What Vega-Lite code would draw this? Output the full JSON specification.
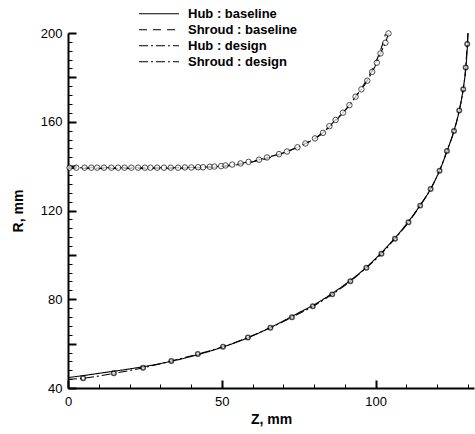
{
  "$schema": "https://vega.github.io/schema/vega-lite/v6.json",
  "width": 406,
  "height": 355,
  "autosize": {"type": "none"},
  "padding": {"left": 68, "top": 33, "right": 1, "bottom": 46},
  "background": "white",
  "config": {
    "view": {"stroke": null},
    "font": "Liberation Sans",
    "axis": {
      "domainColor": "black", "domainWidth": 2, "tickColor": "black",
      "labelColor": "black", "labelFont": "Liberation Sans", "labelFontSize": 13,
      "titleFont": "Liberation Sans", "titleFontSize": 14, "titleFontWeight": "bold",
      "titleColor": "black", "grid": false
    }
  },
  "resolve": {"axis": {"x": "independent", "y": "independent"}},
  "datasets": {
    "lines": [
      {"series": "Hub : baseline", "z": 0, "r": 44.7},
      {"series": "Hub : baseline", "z": 5, "r": 45.6},
      {"series": "Hub : baseline", "z": 10, "r": 46.6},
      {"series": "Hub : baseline", "z": 20, "r": 48.6},
      {"series": "Hub : baseline", "z": 30, "r": 51.0},
      {"series": "Hub : baseline", "z": 40, "r": 54.2},
      {"series": "Hub : baseline", "z": 50, "r": 58.3},
      {"series": "Hub : baseline", "z": 60, "r": 63.5},
      {"series": "Hub : baseline", "z": 65, "r": 66.7},
      {"series": "Hub : baseline", "z": 70, "r": 70.2},
      {"series": "Hub : baseline", "z": 75, "r": 73.9},
      {"series": "Hub : baseline", "z": 80, "r": 77.5},
      {"series": "Hub : baseline", "z": 85, "r": 81.8},
      {"series": "Hub : baseline", "z": 90, "r": 86.6},
      {"series": "Hub : baseline", "z": 95, "r": 92.0},
      {"series": "Hub : baseline", "z": 100, "r": 98.3},
      {"series": "Hub : baseline", "z": 105, "r": 105.6},
      {"series": "Hub : baseline", "z": 110, "r": 113.8},
      {"series": "Hub : baseline", "z": 114.5, "r": 122.4},
      {"series": "Hub : baseline", "z": 118, "r": 130.0},
      {"series": "Hub : baseline", "z": 121, "r": 138.6},
      {"series": "Hub : baseline", "z": 123.3, "r": 147.0},
      {"series": "Hub : baseline", "z": 125.5, "r": 156.0},
      {"series": "Hub : baseline", "z": 127.2, "r": 165.0},
      {"series": "Hub : baseline", "z": 128.5, "r": 175.0},
      {"series": "Hub : baseline", "z": 129.4, "r": 185.0},
      {"series": "Hub : baseline", "z": 129.9, "r": 195.0},
      {"series": "Hub : baseline", "z": 130.1, "r": 200.0},
      {"series": "Shroud : baseline", "z": 0, "r": 139.0},
      {"series": "Shroud : baseline", "z": 20, "r": 139.0},
      {"series": "Shroud : baseline", "z": 35, "r": 139.1},
      {"series": "Shroud : baseline", "z": 45, "r": 139.4},
      {"series": "Shroud : baseline", "z": 50, "r": 139.8},
      {"series": "Shroud : baseline", "z": 55, "r": 140.6},
      {"series": "Shroud : baseline", "z": 60, "r": 141.9},
      {"series": "Shroud : baseline", "z": 65, "r": 143.6},
      {"series": "Shroud : baseline", "z": 70, "r": 145.9},
      {"series": "Shroud : baseline", "z": 75, "r": 148.7},
      {"series": "Shroud : baseline", "z": 80, "r": 152.2},
      {"series": "Shroud : baseline", "z": 84, "r": 156.5},
      {"series": "Shroud : baseline", "z": 87, "r": 160.4},
      {"series": "Shroud : baseline", "z": 90, "r": 165.0},
      {"series": "Shroud : baseline", "z": 92.5, "r": 169.4},
      {"series": "Shroud : baseline", "z": 95, "r": 174.2},
      {"series": "Shroud : baseline", "z": 97, "r": 178.6},
      {"series": "Shroud : baseline", "z": 99, "r": 183.6},
      {"series": "Shroud : baseline", "z": 100.6, "r": 188.6},
      {"series": "Shroud : baseline", "z": 102, "r": 193.8},
      {"series": "Shroud : baseline", "z": 103.2, "r": 199.5},
      {"series": "Hub : design", "z": 0, "r": 43.9},
      {"series": "Hub : design", "z": 4.9, "r": 44.4},
      {"series": "Hub : design", "z": 14.9, "r": 46.6},
      {"series": "Hub : design", "z": 24.4, "r": 49.1},
      {"series": "Hub : design", "z": 33.6, "r": 52.2},
      {"series": "Hub : design", "z": 42.2, "r": 55.3},
      {"series": "Hub : design", "z": 50.4, "r": 58.6},
      {"series": "Hub : design", "z": 58.5, "r": 62.8},
      {"series": "Hub : design", "z": 65.8, "r": 67.2},
      {"series": "Hub : design", "z": 72.8, "r": 71.9},
      {"series": "Hub : design", "z": 79.6, "r": 76.8},
      {"series": "Hub : design", "z": 85.9, "r": 82.2},
      {"series": "Hub : design", "z": 91.8, "r": 88.1},
      {"series": "Hub : design", "z": 97.0, "r": 94.2},
      {"series": "Hub : design", "z": 101.9, "r": 100.5},
      {"series": "Hub : design", "z": 106.3, "r": 107.3},
      {"series": "Hub : design", "z": 110.7, "r": 114.7},
      {"series": "Hub : design", "z": 114.5, "r": 122.2},
      {"series": "Hub : design", "z": 117.9, "r": 129.7},
      {"series": "Hub : design", "z": 120.8, "r": 137.9},
      {"series": "Hub : design", "z": 123.2, "r": 146.8},
      {"series": "Hub : design", "z": 125.5, "r": 155.8},
      {"series": "Hub : design", "z": 127.2, "r": 165.1},
      {"series": "Hub : design", "z": 128.5, "r": 174.6},
      {"series": "Hub : design", "z": 129.3, "r": 184.5},
      {"series": "Hub : design", "z": 129.8, "r": 195.0},
      {"series": "Hub : design", "z": 130.0, "r": 200.0},
      {"series": "Shroud : design", "z": 0, "r": 139.3},
      {"series": "Shroud : design", "z": 20, "r": 139.3},
      {"series": "Shroud : design", "z": 35, "r": 139.3},
      {"series": "Shroud : design", "z": 40, "r": 139.4},
      {"series": "Shroud : design", "z": 45, "r": 139.6},
      {"series": "Shroud : design", "z": 50, "r": 140.0},
      {"series": "Shroud : design", "z": 53.4, "r": 140.7},
      {"series": "Shroud : design", "z": 56.1, "r": 141.2},
      {"series": "Shroud : design", "z": 58.7, "r": 141.9},
      {"series": "Shroud : design", "z": 62.1, "r": 142.9},
      {"series": "Shroud : design", "z": 64.7, "r": 143.9},
      {"series": "Shroud : design", "z": 68.6, "r": 145.4},
      {"series": "Shroud : design", "z": 71.2, "r": 146.6},
      {"series": "Shroud : design", "z": 74.6, "r": 148.5},
      {"series": "Shroud : design", "z": 77.2, "r": 150.2},
      {"series": "Shroud : design", "z": 80.3, "r": 152.5},
      {"series": "Shroud : design", "z": 82.9, "r": 155.0},
      {"series": "Shroud : design", "z": 85.0, "r": 158.0},
      {"series": "Shroud : design", "z": 87.0, "r": 160.8},
      {"series": "Shroud : design", "z": 89.4, "r": 164.1},
      {"series": "Shroud : design", "z": 91.5, "r": 167.5},
      {"series": "Shroud : design", "z": 93.5, "r": 171.3},
      {"series": "Shroud : design", "z": 95.4, "r": 174.6},
      {"series": "Shroud : design", "z": 97.3, "r": 178.5},
      {"series": "Shroud : design", "z": 98.9, "r": 182.5},
      {"series": "Shroud : design", "z": 100.4, "r": 186.6},
      {"series": "Shroud : design", "z": 101.6, "r": 190.8},
      {"series": "Shroud : design", "z": 103.2, "r": 195.6},
      {"series": "Shroud : design", "z": 104.2, "r": 199.8}
    ],
    "markers": [
      {"series": "Hub : design", "z": 4.9, "r": 44.4},
      {"series": "Hub : design", "z": 14.9, "r": 46.6},
      {"series": "Hub : design", "z": 24.4, "r": 49.1},
      {"series": "Hub : design", "z": 33.6, "r": 52.2},
      {"series": "Hub : design", "z": 42.2, "r": 55.3},
      {"series": "Hub : design", "z": 50.4, "r": 58.6},
      {"series": "Hub : design", "z": 58.5, "r": 62.8},
      {"series": "Hub : design", "z": 65.8, "r": 67.2},
      {"series": "Hub : design", "z": 72.8, "r": 71.9},
      {"series": "Hub : design", "z": 79.6, "r": 76.8},
      {"series": "Hub : design", "z": 85.9, "r": 82.2},
      {"series": "Hub : design", "z": 91.8, "r": 88.1},
      {"series": "Hub : design", "z": 97.0, "r": 94.2},
      {"series": "Hub : design", "z": 101.9, "r": 100.5},
      {"series": "Hub : design", "z": 106.3, "r": 107.3},
      {"series": "Hub : design", "z": 110.7, "r": 114.7},
      {"series": "Hub : design", "z": 114.5, "r": 122.2},
      {"series": "Hub : design", "z": 117.9, "r": 129.7},
      {"series": "Hub : design", "z": 120.8, "r": 137.9},
      {"series": "Hub : design", "z": 123.2, "r": 146.8},
      {"series": "Hub : design", "z": 125.5, "r": 155.8},
      {"series": "Hub : design", "z": 127.2, "r": 165.1},
      {"series": "Hub : design", "z": 128.5, "r": 174.6},
      {"series": "Hub : design", "z": 129.3, "r": 184.5},
      {"series": "Hub : design", "z": 129.8, "r": 195.0},
      {"series": "Shroud : design", "z": 0.5, "r": 139.3},
      {"series": "Shroud : design", "z": 2.7, "r": 139.3},
      {"series": "Shroud : design", "z": 5.4, "r": 139.3},
      {"series": "Shroud : design", "z": 7.6, "r": 139.3},
      {"series": "Shroud : design", "z": 9.5, "r": 139.3},
      {"series": "Shroud : design", "z": 11.7, "r": 139.3},
      {"series": "Shroud : design", "z": 14.1, "r": 139.3},
      {"series": "Shroud : design", "z": 16.3, "r": 139.3},
      {"series": "Shroud : design", "z": 18.4, "r": 139.3},
      {"series": "Shroud : design", "z": 20.6, "r": 139.3},
      {"series": "Shroud : design", "z": 22.8, "r": 139.3},
      {"series": "Shroud : design", "z": 25.0, "r": 139.3},
      {"series": "Shroud : design", "z": 26.8, "r": 139.3},
      {"series": "Shroud : design", "z": 29.0, "r": 139.3},
      {"series": "Shroud : design", "z": 31.2, "r": 139.3},
      {"series": "Shroud : design", "z": 33.4, "r": 139.3},
      {"series": "Shroud : design", "z": 35.8, "r": 139.3},
      {"series": "Shroud : design", "z": 38.0, "r": 139.4},
      {"series": "Shroud : design", "z": 40.1, "r": 139.4},
      {"series": "Shroud : design", "z": 42.3, "r": 139.5},
      {"series": "Shroud : design", "z": 43.9, "r": 139.5},
      {"series": "Shroud : design", "z": 46.1, "r": 139.7},
      {"series": "Shroud : design", "z": 47.6, "r": 139.8},
      {"series": "Shroud : design", "z": 49.8, "r": 140.0},
      {"series": "Shroud : design", "z": 51.2, "r": 140.3},
      {"series": "Shroud : design", "z": 53.4, "r": 140.7},
      {"series": "Shroud : design", "z": 56.1, "r": 141.2},
      {"series": "Shroud : design", "z": 58.7, "r": 141.9},
      {"series": "Shroud : design", "z": 62.1, "r": 142.9},
      {"series": "Shroud : design", "z": 64.7, "r": 143.9},
      {"series": "Shroud : design", "z": 68.6, "r": 145.4},
      {"series": "Shroud : design", "z": 71.2, "r": 146.6},
      {"series": "Shroud : design", "z": 74.6, "r": 148.5},
      {"series": "Shroud : design", "z": 77.2, "r": 150.2},
      {"series": "Shroud : design", "z": 80.3, "r": 152.5},
      {"series": "Shroud : design", "z": 82.9, "r": 155.0},
      {"series": "Shroud : design", "z": 85.0, "r": 158.0},
      {"series": "Shroud : design", "z": 87.0, "r": 160.8},
      {"series": "Shroud : design", "z": 89.4, "r": 164.1},
      {"series": "Shroud : design", "z": 91.5, "r": 167.5},
      {"series": "Shroud : design", "z": 93.5, "r": 171.3},
      {"series": "Shroud : design", "z": 95.4, "r": 174.6},
      {"series": "Shroud : design", "z": 97.3, "r": 178.5},
      {"series": "Shroud : design", "z": 98.9, "r": 182.5},
      {"series": "Shroud : design", "z": 100.4, "r": 186.6},
      {"series": "Shroud : design", "z": 101.6, "r": 190.8},
      {"series": "Shroud : design", "z": 103.2, "r": 195.6},
      {"series": "Shroud : design", "z": 104.2, "r": 199.8}
    ]
  },
  "layer": [
    {
      "data": {"name": "lines"},
      "mark": {"type": "line", "color": "black", "strokeWidth": 1.1, "interpolate": "monotone"},
      "encoding": {
        "x": {
          "field": "z", "type": "quantitative",
          "scale": {"domain": [0, 132], "nice": false, "zero": false},
          "axis": {
            "orient": "bottom",
            "title": "Z, mm",
            "values": [0, 50, 100],
            "tickSize": -8,
            "tickWidth": 2,
            "labelPadding": 15,
            "labelFlush": false,
            "labelOverlap": false,
            "titlePadding": 4
          }
        },
        "y": {
          "field": "r", "type": "quantitative",
          "scale": {"domain": [40, 200], "nice": false, "zero": false},
          "axis": {
            "orient": "left",
            "title": "R, mm",
            "values": [40, 60, 80, 100, 120, 140, 160, 180, 200],
            "tickSize": -8,
            "tickWidth": 2,
            "labelExpr": "datum.value % 40 === 0 ? datum.label : ''",
            "labelPadding": 14,
            "labelOverlap": false,
            "titlePadding": 15
          }
        },
        "strokeDash": {
          "field": "series", "type": "nominal",
          "scale": {
            "domain": ["Hub : baseline", "Shroud : baseline", "Hub : design", "Shroud : design"],
            "range": [[1, 0], [8, 6], [9, 3, 2, 3], [9, 3, 2, 3]]
          },
          "legend": {
            "orient": "none", "legendX": 70, "legendY": -27, "title": null,
            "symbolType": "stroke", "symbolSize": 1600, "clipHeight": 15.6, "rowPadding": 0, "padding": 0,
            "labelFont": "Liberation Sans", "labelFontWeight": "bold", "labelFontSize": 13,
            "labelColor": "black", "labelOffset": 8,
            "symbolStrokeColor": "black", "symbolStrokeWidth": 1.1
          }
        }
      }
    },
    {
      "data": {"name": "markers"},
      "mark": {"type": "point", "shape": "circle", "filled": true, "fill": "white", "stroke": "black"},
      "encoding": {
        "x": {
          "field": "z", "type": "quantitative",
          "axis": {
            "orient": "bottom",
            "title": null,
            "values": [10, 20, 30, 40, 60, 70, 80, 90, 110, 120, 130],
            "tickSize": -4, "tickWidth": 1, "labels": false, "domain": false
          }
        },
        "y": {
          "field": "r", "type": "quantitative",
          "axis": {
            "orient": "left",
            "title": null,
            "values": [44, 48, 52, 56, 64, 68, 72, 76, 84, 88, 92, 96, 104, 108, 112, 116, 124, 128, 132, 136, 144, 148, 152, 156, 164, 168, 172, 176, 184, 188, 192, 196],
            "tickSize": -4, "tickWidth": 1, "labels": false, "domain": false
          }
        },
        "size": {
          "field": "series", "type": "ordinal",
          "scale": {"domain": ["Hub : design", "Shroud : design"], "range": [20, 30]},
          "legend": null
        },
        "strokeWidth": {
          "field": "series", "type": "ordinal",
          "scale": {"domain": ["Hub : design", "Shroud : design"], "range": [1.5, 1.0]},
          "legend": null
        }
      }
    }
  ]
}
